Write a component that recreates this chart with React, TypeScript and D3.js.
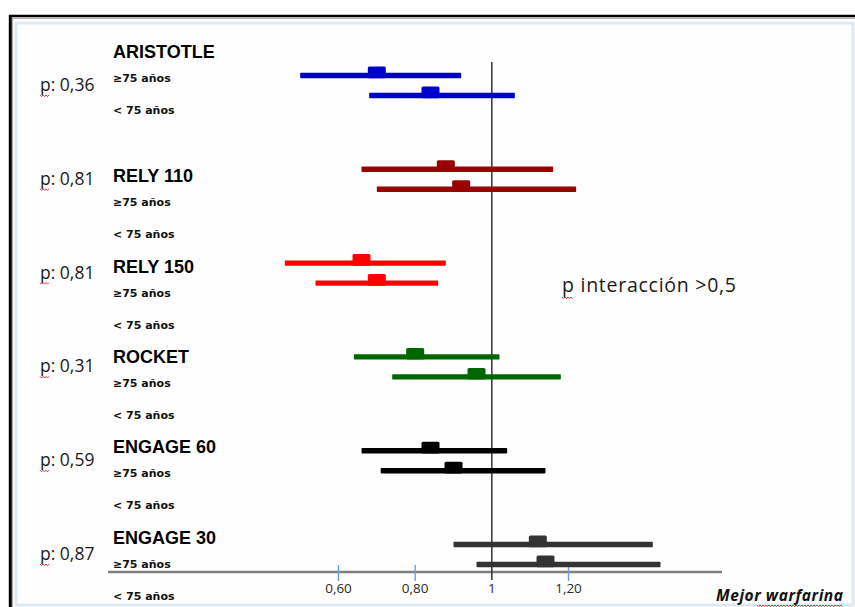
import React from "react";
import * as d3 from "d3";

// ---------- data ----------
const trials = ["ARISTOTLE", "RELY 110", "RELY 150", "ROCKET", "ENGAGE 60", "ENGAGE 30"];
const subgroups = ["≥75 años", "< 75 años"];
const pValues = ["0,36", "0,81", "0,81", "0,31", "0,59", "0,87"];
// ≥75 años
const hrOld = [0.70, 0.88, 0.66, 0.80, 0.84, 1.12];
const loOld = [0.50, 0.66, 0.46, 0.64, 0.66, 0.90];
const hiOld = [0.92, 1.16, 0.88, 1.02, 1.04, 1.42];
// < 75 años
const hrYoung = [0.84, 0.92, 0.70, 0.96, 0.90, 1.14];
const loYoung = [0.68, 0.70, 0.54, 0.74, 0.71, 0.96];
const hiYoung = [1.06, 1.22, 0.86, 1.18, 1.14, 1.44];
const trialColors = ["#0000cc", "#990000", "#ff0000", "#006600", "#000000", "#333333"];
const tickValues = [0.6, 0.8, 1, 1.2];
const tickLabels = ["0,60", "0,80", "1", "1,20"];
const interactionText = "p interacción >0,5";
const axisTitle = "Mejor warfarina";

// ---------- layout ----------
const W = 855;
const H = 607;
const x = d3.scaleLinear().domain([0.6, 1.2]).range([338.5, 568.5]);
const yGroup = d3.scaleLinear().domain([0, trials.length - 1]).range([75.5, 544.5]);
const ySub = d3.scalePoint<string>().domain(subgroups).range([0, 20]);
const axisY = 572;
const lineH = 5.4;
const boxW = 18;
const boxUp = 6.3;

// label flow (text column)
const labelTop = 58;
const labelStep = 90.3;
const blankLine = 34;
const labelY = (i: number) => labelTop + i * labelStep + (i > 0 ? blankLine : 0);

function wavy(x0: number, x1: number, y: number) {
  const pts: [number, number][] = [];
  let k = 0;
  for (let xx = x0; xx <= x1; xx += 1.5, k++) pts.push([xx, y + (k % 2 === 0 ? 0 : 1.6)]);
  return d3.line()(pts) || "";
}

export default function App() {
  const rows = trials.flatMap((t, i) => [
    { t, i, sub: subgroups[0], hr: hrOld[i], lo: loOld[i], hi: hiOld[i] },
    { t, i, sub: subgroups[1], hr: hrYoung[i], lo: loYoung[i], hi: hiYoung[i] },
  ]);

  return (
    <svg
      width={W}
      height={H}
      style={{ position: "absolute", left: 0, top: 0, display: "block", background: "#fff" }}
    >
      {/* frame */}
      <rect x={0} y={0} width={W} height={H} fill="#ffffff" />
      <rect x={16} y={23} width={837} height={582} fill="#fefefe" stroke="#dde9f3" strokeWidth={3} />
      <line x1={9} x2={W} y1={16} y2={16} stroke="#000" strokeWidth={2.5} />
      <line x1={12} x2={W} y1={18.3} y2={18.3} stroke="#8a8a8a" strokeWidth={0.8} />
      <line x1={10.3} x2={10.3} y1={15} y2={H} stroke="#000" strokeWidth={3} />
      <line x1={12.6} x2={12.6} y1={18} y2={H} stroke="#8a8a8a" strokeWidth={0.8} />

      {/* axis */}
      <line x1={108} x2={722} y1={axisY} y2={axisY} stroke="#7f7f7f" strokeWidth={2.4} />
      {tickValues.map((v, k) => (
        <g key={k}>
          {v !== 1 && (
            <line x1={x(v)} x2={x(v)} y1={565} y2={581} stroke="#6f9fd8" strokeWidth={1.4} />
          )}
          <text
            x={x(v)}
            y={593}
            textAnchor="middle"
            fontFamily="Open Sans, sans-serif"
            fontSize={13.5}
            fill="#2a2a2a"
          >
            {tickLabels[k]}
          </text>
        </g>
      ))}

      {/* reference line */}
      <line x1={x(1)} x2={x(1)} y1={62} y2={580} stroke="#333" strokeWidth={1.5} />

      {/* bars */}
      {rows.map((r, k) => {
        const cy = yGroup(r.i) + (ySub(r.sub) || 0);
        const c = trialColors[r.i];
        return (
          <g key={k}>
            <rect
              x={x(r.lo)}
              y={cy - lineH / 2}
              width={x(r.hi) - x(r.lo)}
              height={lineH}
              fill={c}
              rx={0.8}
            />
            <rect
              x={x(r.hr) - boxW / 2}
              y={cy - lineH / 2 - boxUp}
              width={boxW}
              height={lineH + boxUp}
              fill={c}
              rx={1.5}
            />
          </g>
        );
      })}

      {/* p-values */}
      {pValues.map((p, i) => {
        const by = yGroup(i) + 15.5;
        return (
          <g key={i}>
            <text x={40} y={by} fontFamily="Open Sans, sans-serif" fontSize={17.5} fill="#1a1a1a">
              {"p: " + p}
            </text>
            <path d={wavy(40, 50, by + 4)} stroke="#e02020" strokeWidth={0.9} fill="none" />
          </g>
        );
      })}

      {/* trial labels */}
      {trials.map((t, i) => {
        const ty = labelY(i);
        return (
          <g key={t}>
            <text
              x={113}
              y={ty}
              fontFamily="Liberation Sans, Arial, sans-serif"
              fontWeight="bold"
              fontSize={18}
              fill="#000"
            >
              {t}
            </text>
            <text
              x={113}
              y={ty + 24}
              fontFamily="DejaVu Sans, sans-serif"
              fontWeight="bold"
              fontSize={11}
              fill="#111"
            >
              {subgroups[0]}
            </text>
            <text
              x={113}
              y={ty + 56}
              fontFamily="DejaVu Sans, sans-serif"
              fontWeight="bold"
              fontSize={11}
              fill="#111"
            >
              {subgroups[1]}
            </text>
          </g>
        );
      })}

      {/* interaction annotation */}
      <text
        x={562}
        y={292}
        fontFamily="Open Sans, sans-serif"
        fontSize={19.5}
        fill="#1a1a1a"
        textLength={174}
        lengthAdjust="spacing"
      >
        {interactionText}
      </text>
      <path d={wavy(562, 573, 297)} stroke="#e02020" strokeWidth={0.9} fill="none" />

      {/* axis title */}
      <text
        x={716}
        y={601}
        fontFamily="Open Sans, sans-serif"
        fontWeight="bold"
        fontStyle="italic"
        fontSize={15.5}
        fill="#111"
        textLength={127}
        lengthAdjust="spacing"
      >
        {axisTitle}
      </text>
      <path d={wavy(757, 843, 605)} stroke="#e02020" strokeWidth={0.9} fill="none" />
    </svg>
  );
}
